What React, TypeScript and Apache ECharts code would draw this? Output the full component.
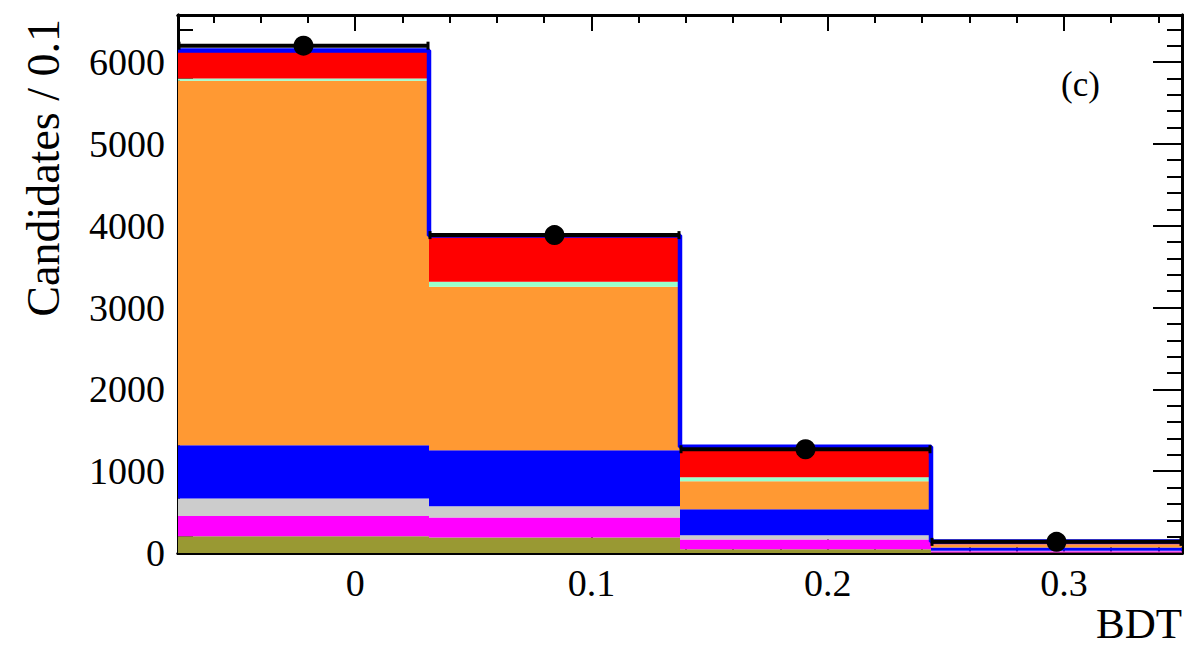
import React, { useEffect, useRef } from "react";
import * as echarts from "echarts";

// ---- Data ----
const binEdges = [-0.075, 0.03125, 0.1375, 0.24375, 0.35];
const componentNames = ["Olive", "Magenta", "Grey", "Blue", "Orange", "Green", "Red"];
const componentColors = ["#999933", "#ff00ff", "#cccccc", "#0000ff", "#ff9933", "#99ffcc", "#ff0000"];
const oliveVals = [205, 189, 45, 6];
const magentaVals = [248, 245, 120, 14];
const greyVals = [213, 138, 53, 6];
const blueVals = [652, 685, 317, 40];
const orangeVals = [4454, 1996, 343, 32];
const greenVals = [28, 61, 49, 6];
const redVals = [340, 566, 373, 36];
const dataVals = [6200, 3885, 1268, 136];

const xTickValues = [0, 0.1, 0.2, 0.3];
const xTickLabels = ["0", "0.1", "0.2", "0.3"];
const xMinorValues = [-0.06, -0.04, -0.02, 0.02, 0.04, 0.06, 0.08, 0.12, 0.14, 0.16, 0.18, 0.22, 0.24, 0.26, 0.28, 0.32, 0.34];
const yTickValues = [0, 1000, 2000, 3000, 4000, 5000, 6000];
const yTickLabels = ["0", "1000", "2000", "3000", "4000", "5000", "6000"];
const yMinorValues = [200, 400, 600, 800, 1200, 1400, 1600, 1800, 2200, 2400, 2600, 2800, 3200, 3400, 3600, 3800, 4200, 4400, 4600, 4800, 5200, 5400, 5600, 5800, 6200, 6400];

const X_MIN = -0.075;
const X_MAX = 0.35;
const Y_MIN = 0;
const Y_MAX = 6575;

const FONT = '"Liberation Serif", "Times New Roman", serif';

export default function App() {
  const ref = useRef<HTMLDivElement>(null);

  useEffect(() => {
    document.body.style.margin = "0";
    if (!ref.current) return;
    const chart = echarts.init(ref.current, undefined, { renderer: "svg" });

    const comps = [oliveVals, magentaVals, greyVals, blueVals, orangeVals, greenVals, redVals];
    const nBins = binEdges.length - 1;
    const base = new Array(nBins).fill(0);
    const fillSeries: any[] = comps.map((vals, ci) => {
      const data = vals.map((v, i) => {
        const item = [binEdges[i], binEdges[i + 1], base[i], base[i] + v];
        base[i] += v;
        return item;
      });
      return {
        type: "custom",
        name: componentNames[ci],
        xAxisIndex: 0,
        yAxisIndex: 0,
        clip: true,
        z: 2,
        data,
        encode: { x: [0, 1], y: [2, 3] },
        renderItem: (params: any, api: any) => {
          const p0 = api.coord([api.value(0), api.value(3)]);
          const p1 = api.coord([api.value(1), api.value(2)]);
          return {
            type: "rect",
            shape: { x: p0[0], y: p0[1], width: p1[0] - p0[0], height: p1[1] - p0[1] },
            style: { fill: componentColors[ci] },
          };
        },
      };
    });

    const totals = base.slice();
    const stepData: number[][] = [];
    totals.forEach((t, i) => {
      stepData.push([binEdges[i], t]);
      stepData.push([binEdges[i + 1], t]);
    });

    const dataItems = dataVals.map((v, i) => [
      (binEdges[i] + binEdges[i + 1]) / 2,
      v,
      binEdges[i],
      binEdges[i + 1],
      Math.sqrt(v),
    ]);

    const axisLine = { show: true, onZero: false, lineStyle: { color: "#000", width: 3 } };
    const mkX = (pos: string, major: boolean) => ({
      type: "value",
      min: X_MIN,
      max: X_MAX,
      position: pos,
      axisLine,
      splitLine: { show: false },
      axisTick: {
        show: true,
        inside: true,
        length: major ? 16 : 8,
        lineStyle: { color: "#000", width: 2 },
        customValues: major ? xTickValues : xMinorValues,
      },
      axisLabel:
        pos === "bottom" && major
          ? {
              show: true,
              customValues: xTickValues,
              formatter: (v: number) => {
                const idx = xTickValues.findIndex((t) => Math.abs(t - v) < 1e-9);
                return idx >= 0 ? xTickLabels[idx] : "";
              },
              fontFamily: FONT,
              fontSize: 38,
              color: "#000",
              margin: 11,
            }
          : { show: false },
    });
    const mkY = (pos: string, major: boolean) => ({
      type: "value",
      min: Y_MIN,
      max: Y_MAX,
      position: pos,
      axisLine,
      splitLine: { show: false },
      axisTick: {
        show: true,
        inside: true,
        length: major ? 29 : 15,
        lineStyle: { color: "#000", width: 2 },
        customValues: major ? yTickValues : yMinorValues,
      },
      axisLabel:
        pos === "left" && major
          ? {
              show: true,
              customValues: yTickValues,
              formatter: (v: number) => {
                const idx = yTickValues.findIndex((t) => Math.abs(t - v) < 1e-6);
                return idx >= 0 ? yTickLabels[idx] : "";
              },
              fontFamily: FONT,
              fontSize: 38,
              color: "#000",
              margin: 13,
            }
          : { show: false },
    });

    chart.setOption({
      animation: false,
      backgroundColor: "#fff",
      grid: { left: 178, right: 21, top: 15, bottom: 93, containLabel: false },
      xAxis: [mkX("bottom", true), mkX("bottom", false), mkX("top", true), mkX("top", false)],
      yAxis: [mkY("left", true), mkY("left", false), mkY("right", true), mkY("right", false)],
      series: [
        ...fillSeries,
        {
          type: "line",
          name: "Total",
          xAxisIndex: 0,
          yAxisIndex: 0,
          data: stepData,
          symbol: "none",
          z: 3,
          lineStyle: { color: "#0000ff", width: 4.5 },
        },
        {
          type: "custom",
          name: "Data",
          xAxisIndex: 0,
          yAxisIndex: 0,
          z: 4,
          clip: false,
          data: dataItems,
          encode: { x: 0, y: 1 },
          renderItem: (params: any, api: any) => {
            const xc = api.value(0);
            const y = api.value(1);
            const x0 = api.value(2);
            const x1 = api.value(3);
            const e = api.value(4);
            const pc = api.coord([xc, y]);
            const pl = api.coord([x0, y]);
            const pr = api.coord([x1, y]);
            const pt = api.coord([xc, y + e]);
            const pb = api.coord([xc, Math.max(0, y - e)]);
            return {
              type: "group",
              children: [
                { type: "line", shape: { x1: pl[0], y1: pl[1], x2: pr[0], y2: pr[1] }, style: { stroke: "#000", lineWidth: 4 } },
                { type: "line", shape: { x1: pl[0] + 1, y1: pl[1] - 4, x2: pl[0] + 1, y2: pl[1] + 4 }, style: { stroke: "#000", lineWidth: 3 } },
                { type: "line", shape: { x1: pr[0] - 1, y1: pr[1] - 4, x2: pr[0] - 1, y2: pr[1] + 4 }, style: { stroke: "#000", lineWidth: 3 } },
                { type: "line", shape: { x1: pc[0], y1: pt[1], x2: pc[0], y2: pb[1] }, style: { stroke: "#000", lineWidth: 3 } },
                { type: "circle", shape: { cx: pc[0], cy: pc[1], r: 10 }, style: { fill: "#000" } },
              ],
            };
          },
        },
      ],
      graphic: [
        {
          type: "text",
          x: 43,
          y: 19,
          rotation: Math.PI / 2,
          style: {
            text: "Candidates / 0.1",
            font: `46px ${FONT}`,
            fill: "#000",
            align: "right",
            verticalAlign: "middle",
            textAlign: "right",
            textVerticalAlign: "middle",
          },
        },
        {
          type: "text",
          x: 1182,
          y: 623,
          style: {
            text: "BDT",
            font: `43px ${FONT}`,
            fill: "#000",
            align: "right",
            verticalAlign: "middle",
            textAlign: "right",
            textVerticalAlign: "middle",
          },
        },
        {
          type: "text",
          x: 1061,
          y: 84,
          style: {
            text: "(c)",
            font: `35px ${FONT}`,
            fill: "#000",
            align: "left",
            verticalAlign: "middle",
            textAlign: "left",
            textVerticalAlign: "middle",
          },
        },
      ],
    });

    return () => {
      chart.dispose();
    };
  }, []);

  return <div ref={ref} style={{ width: 1203, height: 646 }} />;
}
